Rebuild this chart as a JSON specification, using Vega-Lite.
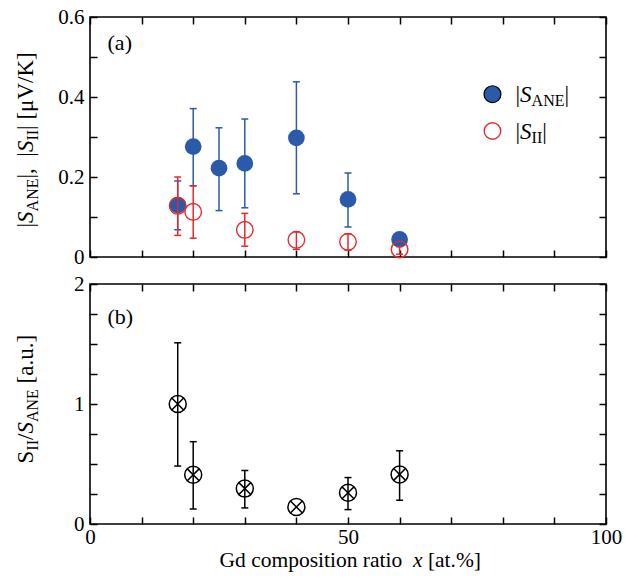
{
  "$schema": "https://vega.github.io/schema/vega-lite/v6.json",
  "padding": {"left": 13, "top": 5, "right": 5, "bottom": 5},
  "datasets": {
    "ane": [
      {"x": 17, "value": 0.130, "lo": 0.068, "hi": 0.190},
      {"x": 20, "value": 0.276, "lo": 0.178, "hi": 0.371},
      {"x": 25, "value": 0.222, "lo": 0.116, "hi": 0.323},
      {"x": 30, "value": 0.234, "lo": 0.123, "hi": 0.345},
      {"x": 40, "value": 0.298, "lo": 0.158, "hi": 0.438},
      {"x": 50, "value": 0.144, "lo": 0.075, "hi": 0.210},
      {"x": 60, "value": 0.044, "lo": null, "hi": null}
    ],
    "sii": [
      {"x": 17, "value": 0.128, "lo": 0.054, "hi": 0.200},
      {"x": 20, "value": 0.113, "lo": 0.047, "hi": 0.178},
      {"x": 30, "value": 0.068, "lo": 0.027, "hi": 0.109},
      {"x": 40, "value": 0.043, "lo": 0.019, "hi": 0.063},
      {"x": 50, "value": 0.038, "lo": 0.017, "hi": 0.058},
      {"x": 60, "value": 0.019, "lo": 0.007, "hi": 0.026}
    ],
    "ratio": [
      {"x": 17, "value": 1.000, "lo": 0.483, "hi": 1.510},
      {"x": 20, "value": 0.410, "lo": 0.125, "hi": 0.686},
      {"x": 30, "value": 0.295, "lo": 0.134, "hi": 0.446},
      {"x": 40, "value": 0.142, "lo": null, "hi": null},
      {"x": 50, "value": 0.260, "lo": 0.120, "hi": 0.387},
      {"x": 60, "value": 0.413, "lo": 0.198, "hi": 0.610}
    ],
    "key_ane": [{"series": "|S_ANE|"}],
    "key_sii": [{"series": "|S_II|"}],
    "panel_a": [{"panel": "(a)"}],
    "panel_b": [{"panel": "(b)"}]
  },
  "vconcat": [
    {
      "width": 516,
      "height": 240,
      "resolve": {"axis": {"x": "independent", "y": "independent"}},
      "layer": [
        {
          "data": {"name": "ane"},
          "mark": {"type": "rule", "color": "#2b5ba8", "strokeWidth": 1.5},
          "encoding": {
            "x": {"field": "x", "type": "quantitative", "scale": {"domain": [0, 100], "nice": false, "zero": false},
              "axis": {"orient": "bottom", "values": [0, 10, 20, 30, 40, 50, 60, 70, 80, 90, 100], "labels": false, "title": null}},
            "y": {"field": "lo", "type": "quantitative", "scale": {"domain": [0, 0.6], "nice": false},
              "axis": {"orient": "left", "values": [0, 0.1, 0.2, 0.3, 0.4, 0.5, 0.6],
                "labelExpr": "datum.value == 0 ? '0' : (round(datum.value * 10) % 2 == 0 ? format(datum.value, '.1f') : '')",
                "title": "|", "titleX": -57.5, "titleY": 210}},
            "y2": {"field": "hi"}
          }
        },
        {
          "data": {"name": "ane"},
          "mark": {"type": "tick", "orient": "horizontal", "size": 7, "thickness": 1.5, "color": "#2b5ba8", "opacity": 1},
          "encoding": {
            "x": {"field": "x", "type": "quantitative", "scale": {"domain": [0, 100], "nice": false, "zero": false},
              "axis": {"orient": "top", "values": [0, 10, 20, 30, 40, 50, 60, 70, 80, 90, 100], "labels": false, "title": null}},
            "y": {"field": "lo", "type": "quantitative", "scale": {"domain": [0, 0.6], "nice": false},
              "axis": {"orient": "right", "values": [0, 0.1, 0.2, 0.3, 0.4, 0.5, 0.6], "labels": false,
                "title": "S", "titleFontStyle": "italic", "titleAngle": -90, "titleX": -573.5, "titleY": 205.4}}
          }
        },
        {
          "data": {"name": "ane"},
          "mark": {"type": "tick", "orient": "horizontal", "size": 7, "thickness": 1.5, "color": "#2b5ba8", "opacity": 1},
          "encoding": {
            "x": {"field": "x", "type": "quantitative", "scale": {"domain": [0, 100], "nice": false, "zero": false}, "axis": null},
            "y": {"field": "hi", "type": "quantitative", "scale": {"domain": [0, 0.6], "nice": false},
              "axis": {"orient": "left", "ticks": false, "labels": false,
                "title": "ANE", "titleFontSize": 16, "titleX": -53, "titleY": 193.9}}
          }
        },
        {
          "data": {"name": "ane"},
          "mark": {"type": "point", "shape": "circle", "filled": true, "size": 280, "color": "#2b5ba8", "opacity": 1, "strokeWidth": 0},
          "encoding": {
            "x": {"field": "x", "type": "quantitative", "scale": {"domain": [0, 100], "nice": false, "zero": false}, "axis": null},
            "y": {"field": "value", "type": "quantitative", "scale": {"domain": [0, 0.6], "nice": false},
              "axis": {"orient": "left", "ticks": false, "labels": false,
                "title": "|,\u00a0\u00a0|", "titleX": -57.5, "titleY": 161.0}}
          }
        },
        {
          "data": {"name": "sii"},
          "mark": {"type": "rule", "color": "#e8282b", "strokeWidth": 1.5},
          "encoding": {
            "x": {"field": "x", "type": "quantitative", "scale": {"domain": [0, 100], "nice": false, "zero": false}, "axis": null},
            "y": {"field": "lo", "type": "quantitative", "scale": {"domain": [0, 0.6], "nice": false},
              "axis": {"orient": "left", "ticks": false, "labels": false,
                "title": "S", "titleFontStyle": "italic", "titleX": -57.5, "titleY": 134.55}},
            "y2": {"field": "hi"}
          }
        },
        {
          "data": {"name": "sii"},
          "mark": {"type": "tick", "orient": "horizontal", "size": 7, "thickness": 1.5, "color": "#e8282b", "opacity": 1},
          "encoding": {
            "x": {"field": "x", "type": "quantitative", "scale": {"domain": [0, 100], "nice": false, "zero": false}, "axis": null},
            "y": {"field": "lo", "type": "quantitative", "scale": {"domain": [0, 0.6], "nice": false},
              "axis": {"orient": "left", "ticks": false, "labels": false,
                "title": "II", "titleFontSize": 16, "titleX": -53, "titleY": 123.05}}
          }
        },
        {
          "data": {"name": "sii"},
          "mark": {"type": "tick", "orient": "horizontal", "size": 7, "thickness": 1.5, "color": "#e8282b", "opacity": 1},
          "encoding": {
            "x": {"field": "x", "type": "quantitative", "scale": {"domain": [0, 100], "nice": false, "zero": false}, "axis": null},
            "y": {"field": "hi", "type": "quantitative", "scale": {"domain": [0, 0.6], "nice": false},
              "axis": {"orient": "left", "ticks": false, "labels": false,
                "title": "|\u00a0[μV/K]", "titleX": -57.5, "titleY": 112.4}}
          }
        },
        {
          "data": {"name": "sii"},
          "mark": {"type": "point", "shape": "circle", "filled": false, "size": 275, "stroke": "#e8282b", "strokeWidth": 1.4, "opacity": 1},
          "encoding": {
            "x": {"field": "x", "type": "quantitative", "scale": {"domain": [0, 100], "nice": false, "zero": false}, "axis": null},
            "y": {"field": "value", "type": "quantitative", "scale": {"domain": [0, 0.6], "nice": false}, "axis": null}
          }
        },
        {
          "data": {"name": "key_ane"},
          "mark": {"type": "point", "shape": "circle", "filled": true, "size": 285, "fill": "#2b5ba8", "stroke": "black", "strokeWidth": 1.2, "opacity": 1},
          "encoding": {
            "x": {"datum": 78, "type": "quantitative", "scale": {"domain": [0, 100], "nice": false, "zero": false}, "axis": null},
            "y": {"datum": 0.407, "type": "quantitative", "scale": {"domain": [0, 0.6], "nice": false}, "axis": null}
          }
        },
        {
          "data": {"name": "key_ane"},
          "mark": {"type": "text", "text": "|", "align": "left", "baseline": "alphabetic", "dx": 23, "dy": 7.5, "fontSize": 23, "color": "black"},
          "encoding": {
            "x": {"datum": 78, "type": "quantitative", "scale": {"domain": [0, 100], "nice": false, "zero": false}, "axis": null},
            "y": {"datum": 0.407, "type": "quantitative", "scale": {"domain": [0, 0.6], "nice": false}, "axis": null}
          }
        },
        {
          "data": {"name": "key_ane"},
          "mark": {"type": "text", "text": "S", "align": "left", "baseline": "alphabetic", "dx": 27.6, "dy": 7.5, "fontSize": 23, "fontStyle": "italic", "color": "black"},
          "encoding": {
            "x": {"datum": 78, "type": "quantitative", "scale": {"domain": [0, 100], "nice": false, "zero": false}, "axis": null},
            "y": {"datum": 0.407, "type": "quantitative", "scale": {"domain": [0, 0.6], "nice": false}, "axis": null}
          }
        },
        {
          "data": {"name": "key_ane"},
          "mark": {"type": "text", "text": "ANE", "align": "left", "baseline": "alphabetic", "dx": 39.1, "dy": 12, "fontSize": 16, "color": "black"},
          "encoding": {
            "x": {"datum": 78, "type": "quantitative", "scale": {"domain": [0, 100], "nice": false, "zero": false}, "axis": null},
            "y": {"datum": 0.407, "type": "quantitative", "scale": {"domain": [0, 0.6], "nice": false}, "axis": null}
          }
        },
        {
          "data": {"name": "key_ane"},
          "mark": {"type": "text", "text": "|", "align": "left", "baseline": "alphabetic", "dx": 72, "dy": 7.5, "fontSize": 23, "color": "black"},
          "encoding": {
            "x": {"datum": 78, "type": "quantitative", "scale": {"domain": [0, 100], "nice": false, "zero": false}, "axis": null},
            "y": {"datum": 0.407, "type": "quantitative", "scale": {"domain": [0, 0.6], "nice": false}, "axis": null}
          }
        },
        {
          "data": {"name": "key_sii"},
          "mark": {"type": "point", "shape": "circle", "filled": false, "size": 275, "stroke": "#e8282b", "strokeWidth": 1.4, "opacity": 1},
          "encoding": {
            "x": {"datum": 78, "type": "quantitative", "scale": {"domain": [0, 100], "nice": false, "zero": false}, "axis": null},
            "y": {"datum": 0.315, "type": "quantitative", "scale": {"domain": [0, 0.6], "nice": false}, "axis": null}
          }
        },
        {
          "data": {"name": "key_sii"},
          "mark": {"type": "text", "text": "|", "align": "left", "baseline": "alphabetic", "dx": 23, "dy": 7.5, "fontSize": 23, "color": "black"},
          "encoding": {
            "x": {"datum": 78, "type": "quantitative", "scale": {"domain": [0, 100], "nice": false, "zero": false}, "axis": null},
            "y": {"datum": 0.315, "type": "quantitative", "scale": {"domain": [0, 0.6], "nice": false}, "axis": null}
          }
        },
        {
          "data": {"name": "key_sii"},
          "mark": {"type": "text", "text": "S", "align": "left", "baseline": "alphabetic", "dx": 27.6, "dy": 7.5, "fontSize": 23, "fontStyle": "italic", "color": "black"},
          "encoding": {
            "x": {"datum": 78, "type": "quantitative", "scale": {"domain": [0, 100], "nice": false, "zero": false}, "axis": null},
            "y": {"datum": 0.315, "type": "quantitative", "scale": {"domain": [0, 0.6], "nice": false}, "axis": null}
          }
        },
        {
          "data": {"name": "key_sii"},
          "mark": {"type": "text", "text": "II", "align": "left", "baseline": "alphabetic", "dx": 39.1, "dy": 12, "fontSize": 16, "color": "black"},
          "encoding": {
            "x": {"datum": 78, "type": "quantitative", "scale": {"domain": [0, 100], "nice": false, "zero": false}, "axis": null},
            "y": {"datum": 0.315, "type": "quantitative", "scale": {"domain": [0, 0.6], "nice": false}, "axis": null}
          }
        },
        {
          "data": {"name": "key_sii"},
          "mark": {"type": "text", "text": "|", "align": "left", "baseline": "alphabetic", "dx": 49.8, "dy": 7.5, "fontSize": 23, "color": "black"},
          "encoding": {
            "x": {"datum": 78, "type": "quantitative", "scale": {"domain": [0, 100], "nice": false, "zero": false}, "axis": null},
            "y": {"datum": 0.315, "type": "quantitative", "scale": {"domain": [0, 0.6], "nice": false}, "axis": null}
          }
        },
        {
          "data": {"name": "panel_a"},
          "mark": {"type": "text", "align": "left", "baseline": "alphabetic", "fontSize": 22, "color": "black"},
          "encoding": {
            "text": {"field": "panel"},
            "x": {"datum": 3.4, "type": "quantitative", "scale": {"domain": [0, 100], "nice": false, "zero": false}, "axis": null},
            "y": {"datum": 0.517, "type": "quantitative", "scale": {"domain": [0, 0.6], "nice": false}, "axis": null}
          }
        }
      ]
    },
    {
      "width": 516,
      "height": 240,
      "resolve": {"axis": {"x": "independent", "y": "independent"}},
      "layer": [
        {
          "data": {"name": "ratio"},
          "mark": {"type": "rule", "color": "black", "strokeWidth": 1.5},
          "encoding": {
            "x": {"field": "x", "type": "quantitative", "scale": {"domain": [0, 100], "nice": false, "zero": false},
              "axis": {"orient": "bottom", "values": [0, 10, 20, 30, 40, 50, 60, 70, 80, 90, 100],
                "labelExpr": "datum.value % 50 == 0 ? format(datum.value, 'd') : ''", "labelPadding": 9,
                "title": "Gd composition ratio", "titleFontSize": 21.5, "titleX": 129, "titleY": 42}},
            "y": {"field": "lo", "type": "quantitative", "scale": {"domain": [0, 2], "nice": false},
              "axis": {"orient": "left", "values": [0, 0.25, 0.5, 0.75, 1, 1.25, 1.5, 1.75, 2],
                "labelExpr": "datum.value % 1 == 0 ? format(datum.value, 'd') : ''",
                "title": "S", "titleX": -57.5, "titleY": 179}},
            "y2": {"field": "hi"}
          }
        },
        {
          "data": {"name": "ratio"},
          "mark": {"type": "tick", "orient": "horizontal", "size": 7, "thickness": 1.5, "color": "black", "opacity": 1},
          "encoding": {
            "x": {"field": "x", "type": "quantitative", "scale": {"domain": [0, 100], "nice": false, "zero": false},
              "axis": {"orient": "bottom", "ticks": false, "labels": false,
                "title": "x", "titleFontStyle": "italic", "titleFontSize": 21.5, "titleX": 322.5, "titleY": 42}},
            "y": {"field": "lo", "type": "quantitative", "scale": {"domain": [0, 2], "nice": false},
              "axis": {"orient": "right", "values": [0, 0.25, 0.5, 0.75, 1, 1.25, 1.5, 1.75, 2], "labels": false,
                "title": "II", "titleFontSize": 16, "titleAngle": -90, "titleX": -569, "titleY": 166.2}}
          }
        },
        {
          "data": {"name": "ratio"},
          "mark": {"type": "tick", "orient": "horizontal", "size": 7, "thickness": 1.5, "color": "black", "opacity": 1},
          "encoding": {
            "x": {"field": "x", "type": "quantitative", "scale": {"domain": [0, 100], "nice": false, "zero": false},
              "axis": {"orient": "top", "values": [0, 10, 20, 30, 40, 50, 60, 70, 80, 90, 100], "labels": false, "title": null}},
            "y": {"field": "hi", "type": "quantitative", "scale": {"domain": [0, 2], "nice": false},
              "axis": {"orient": "left", "ticks": false, "labels": false,
                "title": "/", "titleX": -57.5, "titleY": 155.5}}
          }
        },
        {
          "data": {"name": "ratio"},
          "mark": {"type": "point", "shape": "circle", "filled": false, "size": 289, "stroke": "black", "strokeWidth": 1.5, "opacity": 1},
          "encoding": {
            "x": {"field": "x", "type": "quantitative", "scale": {"domain": [0, 100], "nice": false, "zero": false},
              "axis": {"orient": "bottom", "ticks": false, "labels": false,
                "title": "[at.%]", "titleFontSize": 21.5, "titleX": 337.4, "titleY": 42}},
            "y": {"field": "value", "type": "quantitative", "scale": {"domain": [0, 2], "nice": false},
              "axis": {"orient": "left", "ticks": false, "labels": false,
                "title": "S", "titleFontStyle": "italic", "titleX": -57.5, "titleY": 149.1}}
          }
        },
        {
          "data": {"name": "ratio"},
          "mark": {"type": "point", "shape": "M-0.7,-0.7L0.7,0.7M-0.7,0.7L0.7,-0.7", "filled": false, "size": 289, "stroke": "black", "strokeWidth": 1.5, "opacity": 1},
          "encoding": {
            "x": {"field": "x", "type": "quantitative", "scale": {"domain": [0, 100], "nice": false, "zero": false}, "axis": null},
            "y": {"field": "value", "type": "quantitative", "scale": {"domain": [0, 2], "nice": false},
              "axis": {"orient": "left", "ticks": false, "labels": false,
                "title": "ANE", "titleFontSize": 16, "titleX": -53, "titleY": 137.6}}
          }
        },
        {
          "data": {"name": "panel_b"},
          "mark": {"type": "text", "align": "left", "baseline": "alphabetic", "fontSize": 22, "color": "black"},
          "encoding": {
            "text": {"field": "panel"},
            "x": {"datum": 3.4, "type": "quantitative", "scale": {"domain": [0, 100], "nice": false, "zero": false}, "axis": null},
            "y": {"datum": 1.663, "type": "quantitative", "scale": {"domain": [0, 2], "nice": false},
              "axis": {"orient": "left", "ticks": false, "labels": false,
                "title": "[a.u.]", "titleX": -57.5, "titleY": 98.95}}
          }
        }
      ]
    }
  ],
  "spacing": 27,
  "bounds": "flush",
  "config": {
    "font": "Liberation Serif",
    "view": {"stroke": "black", "strokeWidth": 1.6},
    "text": {"font": "Liberation Serif"},
    "axis": {
      "grid": false,
      "domain": false,
      "labelFont": "Liberation Serif",
      "labelFontSize": 21,
      "labelColor": "black",
      "labelPadding": 13,
      "labelFlush": false,
      "labelOverlap": false,
      "tickColor": "black",
      "tickWidth": 1.5,
      "tickSize": -7,
      "titleFont": "Liberation Serif",
      "titleFontSize": 23,
      "titleFontWeight": "normal",
      "titleColor": "black",
      "titlePadding": 0
    },
    "axisY": {"titleAngle": -90, "titleAlign": "left", "titleBaseline": "alphabetic"},
    "axisX": {"titleAngle": 0, "titleAlign": "left", "titleBaseline": "alphabetic"}
  }
}
